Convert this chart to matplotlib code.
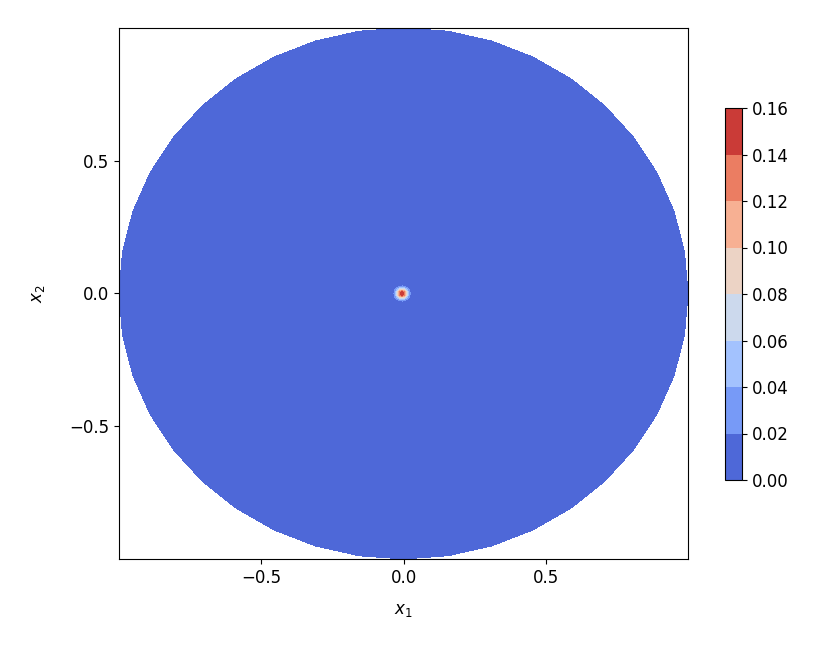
import numpy as np
import matplotlib.pyplot as plt
import matplotlib.tri as mtri

# contour levels and field parameters
levels = [0.00, 0.02, 0.04, 0.06, 0.08, 0.10, 0.12, 0.14, 0.16]
peak_height = 0.155
peak_width = 0.014
peak_center = (-0.005, 0.0)
n_boundary = 40

# mesh: rings refined near the centre, coarse boundary polygon
radii = np.concatenate([np.linspace(0.002, 0.08, 40), np.linspace(0.09, 1.0, 30)])
xs, ys = [0.0], [0.0]
for r in radii:
    n = n_boundary if r > 0.5 else max(24, int(200 * r) + 24)
    th = np.linspace(0, 2 * np.pi, n, endpoint=False)
    xs.extend(r * np.cos(th))
    ys.extend(r * np.sin(th))
xs = np.array(xs)
ys = np.array(ys)
tri = mtri.Triangulation(xs, ys)

rr2 = (xs - peak_center[0]) ** 2 + (ys - peak_center[1]) ** 2
z = peak_height * np.exp(-rr2 / (2 * peak_width ** 2))

fig = plt.figure(figsize=(8.3, 6.49), dpi=100)
ax = fig.add_axes([119 / 830, 90 / 649, 569 / 830, 531 / 649])
cax = fig.add_axes([725 / 830, 169 / 649, 17 / 830, 372 / 649])

cs = ax.tricontourf(tri, z, levels=levels, cmap='coolwarm')
ax.set_xlim(-1, 1)
ax.set_ylim(-1, 1)
ax.set_xticks([-0.5, 0.0, 0.5])
ax.set_yticks([-0.5, 0.0, 0.5])
ax.set_xlabel('$x_1$', fontsize=12, labelpad=10)
ax.set_ylabel('$x_2$', fontsize=12, labelpad=16)
ax.tick_params(labelsize=12)

cb = fig.colorbar(cs, cax=cax)
cb.ax.tick_params(labelsize=12)

fig.savefig('out.png', dpi=100)
